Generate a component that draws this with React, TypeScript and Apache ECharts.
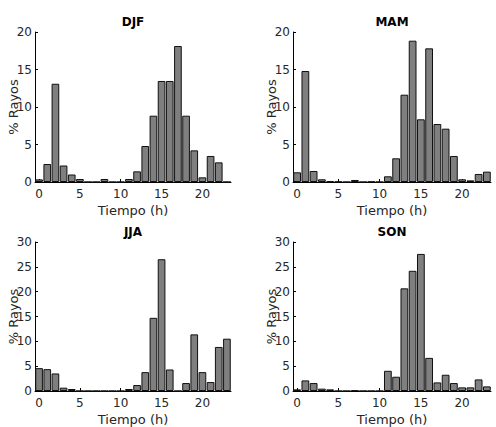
import React, { useEffect, useRef } from "react";
import * as echarts from "echarts";

const hours = Array.from({ length: 24 }, (_, i) => String(i));

const djf = [0.35, 2.4, 13.1, 2.2, 1.0, 0.4, 0, 0, 0.4, 0, 0, 0.4, 1.42, 4.8, 8.84, 13.47, 13.47, 18.13, 8.84, 4.22, 0.62, 3.47, 2.62, 0];
const mam = [1.29, 14.8, 1.47, 0.36, 0.1, 0.05, 0, 0.27, 0, 0.05, 0, 0.76, 3.16, 11.64, 18.84, 8.36, 17.82, 7.73, 7.11, 3.47, 0.36, 0.22, 1.07, 1.38];
const jja = [4.6, 4.4, 3.53, 0.67, 0.4, 0, 0, 0, 0, 0, 0, 0.4, 1.2, 3.8, 14.73, 26.53, 4.33, 0, 1.6, 11.4, 3.8, 1.8, 8.87, 10.53];
const son = [0.33, 2.13, 1.6, 0.47, 0.33, 0, 0, 0.13, 0, 0, 0, 4.07, 2.87, 20.67, 24.2, 27.6, 6.67, 1.73, 3.27, 1.6, 0.73, 0.73, 2.33, 0.93];

const panelTitles = ["DJF", "MAM", "JJA", "SON"];
const panelMax = [20, 20, 30, 30];
const xTitle = "Tiempo (h)";
const yTitle = "% Rayos";

const FONT = "DejaVu Sans";

export default function App() {
  const ref = useRef<HTMLDivElement>(null);
  useEffect(() => {
    if (!ref.current) return;
    const chart = echarts.init(ref.current, null, { renderer: "svg" });
    const grids = [
      { left: 35, top: 32, width: 196, height: 150 },
      { left: 293, top: 32, width: 198, height: 150 },
      { left: 35, top: 242, width: 196, height: 150 },
      { left: 293, top: 242, width: 198, height: 150 },
    ];
    const data = [djf, mam, jja, son];
    const showIdx = (i: number) => i % 5 === 0;
    const option: any = {
      animation: false,
      backgroundColor: "#ffffff",
      grid: grids.map((g) => ({ ...g, containLabel: false })),
      xAxis: grids.map((_, i) => ({
        type: "category",
        gridIndex: i,
        data: hours,
        boundaryGap: true,
        name: xTitle,
        nameLocation: "middle",
        nameGap: 22,
        nameMoveOverlap: false,
        nameTextStyle: { fontFamily: FONT, fontSize: 13, color: "#262626" },
        axisLine: { show: true, lineStyle: { color: "#000", width: 1 } },
        axisTick: { show: true, inside: true, length: 3, alignWithLabel: true, interval: showIdx, lineStyle: { color: "#000" } },
        axisLabel: { interval: showIdx, margin: 6, fontFamily: FONT, fontSize: 12, color: "#262626" },
        splitLine: { show: false },
      })),
      yAxis: grids.map((_, i) => ({
        type: "value",
        gridIndex: i,
        min: 0,
        max: panelMax[i],
        interval: 5,
        name: yTitle,
        nameLocation: "middle",
        nameRotate: 90,
        nameGap: 15,
        nameMoveOverlap: false,
        nameTextStyle: { fontFamily: FONT, fontSize: 13, color: "#262626" },
        axisLine: { show: true, lineStyle: { color: "#000", width: 1 } },
        axisTick: { show: true, inside: true, length: 3, lineStyle: { color: "#000" } },
        axisLabel: { margin: 3, fontFamily: FONT, fontSize: 12, color: "#262626" },
        splitLine: { show: false },
      })),
      series: data.map((d, i) => ({
        type: "bar",
        xAxisIndex: i,
        yAxisIndex: i,
        data: d,
        barCategoryGap: "6%",
        itemStyle: { color: "#7f7f7f", borderColor: "#111", borderWidth: 1 },
      })),
      graphic: grids.map((g, i) => ({
        type: "text",
        x: g.left + g.width / 2,
        y: g.top - 10,
        style: {
          text: panelTitles[i],
          fontFamily: FONT,
          fontSize: 12,
          fontWeight: "bold",
          fill: "#000",
          textAlign: "center",
          textVerticalAlign: "middle",
        },
      })),
    };
    chart.setOption(option);
    return () => chart.dispose();
  }, []);
  return (
    <div
      ref={ref}
      style={{ position: "absolute", left: 0, top: 0, width: 496, height: 427 }}
    />
  );
}
